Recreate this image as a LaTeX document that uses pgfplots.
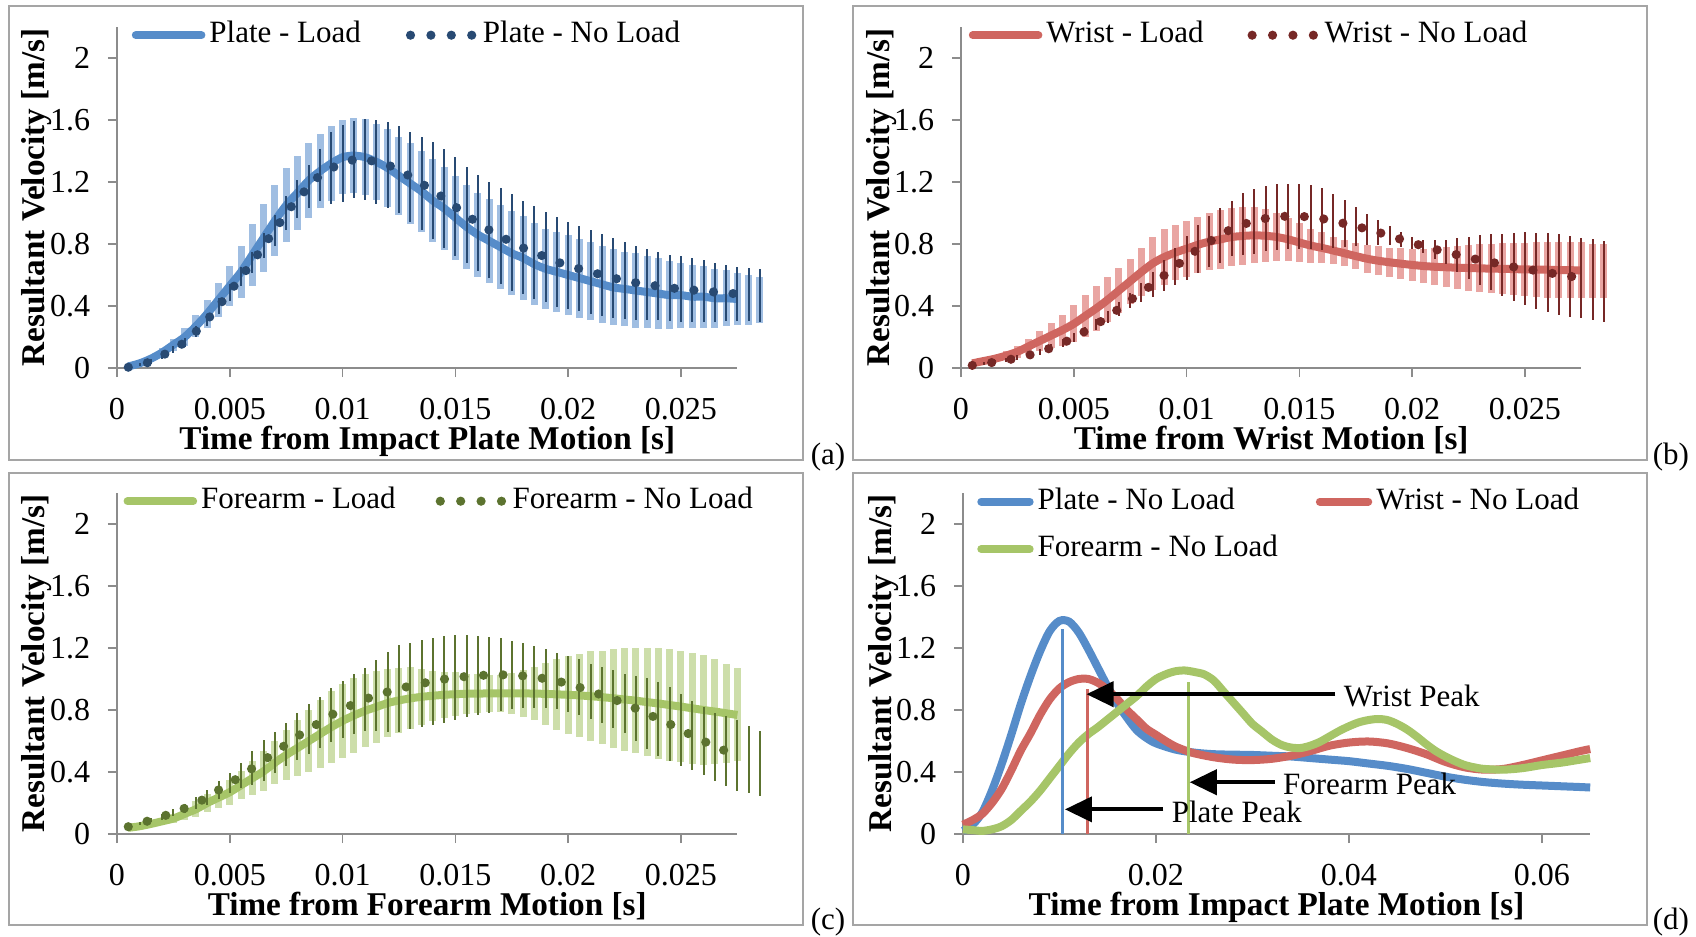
\documentclass[border=0pt]{standalone}
\usepackage{fontspec}
\setmainfont{Liberation Serif}
\usepackage{pgfplots}
\pgfplotsset{compat=1.18}
\usepackage{pgfplotstable}
\usetikzlibrary{arrows.meta}
\newcommand\tf{\fontsize{7.75}{9.3}\selectfont}
\newcommand\tkf{\fontsize{8}{9.6}\selectfont}
\newcommand\lbf{\fontsize{8.3}{9.9}\selectfont\bfseries}
\definecolor{plateL}{RGB}{86,140,201}
\definecolor{plateLbar}{RGB}{160,190,226}
\definecolor{plateN}{RGB}{40,74,115}
\definecolor{wristL}{RGB}{207,102,96}
\definecolor{wristLbar}{RGB}{233,165,162}
\definecolor{wristN}{RGB}{118,40,38}
\definecolor{foreL}{RGB}{166,197,104}
\definecolor{foreLbar}{RGB}{205,222,170}
\definecolor{foreN}{RGB}{92,115,47}
\definecolor{axisgray}{RGB}{140,140,140}
\definecolor{boxgray}{RGB}{165,165,165}

% t, Load mean, Load sd, No-Load mean, No-Load sd
\pgfplotstableread{
t mL eL mN eN
0.0005 0.01 0.005 0.005 0.005
0.0010 0.03 0.01 0.02 0.01
0.0015 0.06 0.02 0.04 0.015
0.0020 0.10 0.03 0.08 0.02
0.0025 0.15 0.04 0.12 0.025
0.0030 0.20 0.06 0.165 0.03
0.0035 0.27 0.07 0.235 0.035
0.0040 0.35 0.09 0.31 0.04
0.0045 0.44 0.11 0.40 0.05
0.0050 0.53 0.13 0.49 0.055
0.0055 0.62 0.17 0.59 0.06
0.0060 0.73 0.20 0.68 0.07
0.0065 0.84 0.22 0.79 0.08
0.0070 0.95 0.23 0.89 0.10
0.0075 1.05 0.24 1.00 0.11
0.0080 1.13 0.24 1.09 0.12
0.0085 1.21 0.24 1.17 0.14
0.0090 1.27 0.24 1.245 0.17
0.0095 1.32 0.24 1.29 0.23
0.0100 1.36 0.24 1.32 0.25
0.0105 1.37 0.24 1.345 0.25
0.0110 1.36 0.245 1.345 0.26
0.0115 1.33 0.245 1.33 0.27
0.0120 1.29 0.25 1.31 0.28
0.0125 1.24 0.25 1.28 0.28
0.0130 1.19 0.26 1.235 0.29
0.0135 1.14 0.26 1.19 0.30
0.0140 1.08 0.27 1.145 0.31
0.0145 1.03 0.27 1.095 0.32
0.0150 0.97 0.27 1.04 0.32
0.0155 0.91 0.27 0.985 0.31
0.0160 0.86 0.27 0.935 0.31
0.0165 0.82 0.27 0.89 0.31
0.0170 0.78 0.27 0.85 0.31
0.0175 0.74 0.27 0.81 0.31
0.0180 0.71 0.27 0.775 0.30
0.0185 0.67 0.265 0.745 0.30
0.0190 0.64 0.26 0.715 0.29
0.0195 0.62 0.26 0.685 0.29
0.0200 0.60 0.26 0.66 0.28
0.0205 0.58 0.255 0.64 0.275
0.0210 0.56 0.25 0.62 0.27
0.0215 0.54 0.25 0.60 0.265
0.0220 0.52 0.245 0.58 0.26
0.0225 0.51 0.24 0.565 0.25
0.0230 0.50 0.24 0.55 0.24
0.0235 0.49 0.235 0.54 0.23
0.0240 0.48 0.23 0.527 0.22
0.0245 0.47 0.22 0.517 0.215
0.0250 0.47 0.21 0.51 0.21
0.0255 0.46 0.205 0.503 0.205
0.0260 0.46 0.20 0.497 0.20
0.0265 0.45 0.19 0.49 0.19
0.0270 0.45 0.18 0.484 0.18
0.0275 0.445 0.17 0.478 0.175
0.0280 0.44 0.16 0.473 0.17
0.0285 0.44 0.15 0.468 0.17
}\tabA

\pgfplotstableread{
t mL eL mN eN
0.0005 0.03 0.01 0.017 0.01
0.0010 0.045 0.015 0.028 0.01
0.0015 0.06 0.02 0.038 0.012
0.0020 0.08 0.03 0.05 0.014
0.0025 0.105 0.04 0.065 0.016
0.0030 0.14 0.05 0.082 0.018
0.0035 0.175 0.065 0.105 0.02
0.0040 0.21 0.08 0.13 0.022
0.0045 0.245 0.10 0.16 0.025
0.0050 0.285 0.12 0.195 0.028
0.0055 0.335 0.135 0.237 0.03
0.0060 0.385 0.145 0.28 0.035
0.0065 0.44 0.145 0.33 0.04
0.0070 0.50 0.145 0.382 0.045
0.0075 0.56 0.145 0.437 0.05
0.0080 0.62 0.155 0.488 0.06
0.0085 0.675 0.17 0.54 0.08
0.0090 0.715 0.18 0.597 0.10
0.0095 0.745 0.18 0.655 0.12
0.0100 0.77 0.18 0.71 0.14
0.0105 0.795 0.18 0.768 0.155
0.0110 0.815 0.185 0.815 0.165
0.0115 0.83 0.19 0.855 0.175
0.0120 0.845 0.19 0.90 0.18
0.0125 0.852 0.185 0.927 0.20
0.0130 0.856 0.18 0.947 0.21
0.0135 0.853 0.17 0.965 0.21
0.0140 0.845 0.155 0.975 0.215
0.0145 0.83 0.14 0.98 0.21
0.0150 0.81 0.125 0.979 0.21
0.0155 0.79 0.11 0.974 0.205
0.0160 0.775 0.10 0.964 0.20
0.0165 0.758 0.09 0.948 0.175
0.0170 0.74 0.085 0.932 0.15
0.0175 0.722 0.085 0.914 0.125
0.0180 0.705 0.09 0.896 0.10
0.0185 0.692 0.095 0.875 0.08
0.0190 0.682 0.095 0.854 0.06
0.0195 0.673 0.10 0.83 0.05
0.0200 0.665 0.105 0.808 0.04
0.0205 0.658 0.11 0.785 0.04
0.0210 0.653 0.12 0.766 0.06
0.0215 0.65 0.13 0.748 0.08
0.0220 0.647 0.14 0.73 0.11
0.0225 0.645 0.15 0.712 0.135
0.0230 0.643 0.155 0.696 0.16
0.0235 0.641 0.16 0.683 0.18
0.0240 0.64 0.165 0.667 0.20
0.0245 0.638 0.17 0.652 0.22
0.0250 0.636 0.17 0.64 0.235
0.0255 0.635 0.175 0.628 0.245
0.0260 0.634 0.18 0.616 0.255
0.0265 0.632 0.18 0.603 0.26
0.0270 0.631 0.18 0.592 0.26
0.0275 0.63 0.18 0.58 0.26
0.0280 0.628 0.175 0.57 0.26
0.0285 0.626 0.175 0.56 0.26
}\tabB

\pgfplotstableread{
t mL eL mN eN
0.0005 0.04 0.005 0.047 0.005
0.0010 0.05 0.01 0.067 0.01
0.0015 0.065 0.015 0.09 0.015
0.0020 0.082 0.02 0.112 0.02
0.0025 0.10 0.03 0.138 0.025
0.0030 0.13 0.04 0.166 0.03
0.0035 0.16 0.05 0.20 0.04
0.0040 0.20 0.055 0.235 0.05
0.0045 0.235 0.065 0.284 0.06
0.0050 0.27 0.08 0.327 0.065
0.0055 0.315 0.09 0.375 0.08
0.0060 0.36 0.11 0.424 0.11
0.0065 0.405 0.13 0.475 0.13
0.0070 0.46 0.14 0.525 0.13
0.0075 0.51 0.16 0.578 0.14
0.0080 0.555 0.18 0.63 0.15
0.0085 0.60 0.20 0.678 0.16
0.0090 0.645 0.22 0.72 0.165
0.0095 0.69 0.23 0.768 0.175
0.0100 0.73 0.24 0.805 0.185
0.0105 0.765 0.24 0.839 0.195
0.0110 0.795 0.235 0.869 0.205
0.0115 0.82 0.23 0.895 0.23
0.0120 0.845 0.22 0.917 0.26
0.0125 0.862 0.21 0.938 0.28
0.0130 0.875 0.20 0.955 0.28
0.0135 0.885 0.18 0.971 0.28
0.0140 0.892 0.16 0.985 0.28
0.0145 0.898 0.15 0.999 0.28
0.0150 0.902 0.14 1.009 0.275
0.0155 0.905 0.13 1.017 0.265
0.0160 0.906 0.125 1.022 0.255
0.0165 0.907 0.12 1.026 0.245
0.0170 0.907 0.12 1.027 0.235
0.0175 0.907 0.13 1.026 0.22
0.0180 0.907 0.15 1.02 0.21
0.0185 0.906 0.17 1.011 0.20
0.0190 0.904 0.20 1.002 0.19
0.0195 0.901 0.23 0.988 0.18
0.0200 0.898 0.25 0.968 0.18
0.0205 0.894 0.27 0.946 0.18
0.0210 0.889 0.29 0.92 0.18
0.0215 0.883 0.30 0.896 0.18
0.0220 0.876 0.32 0.87 0.185
0.0225 0.868 0.33 0.843 0.19
0.0230 0.86 0.34 0.81 0.21
0.0235 0.851 0.35 0.776 0.23
0.0240 0.842 0.355 0.742 0.24
0.0245 0.832 0.36 0.71 0.24
0.0250 0.822 0.36 0.671 0.23
0.0255 0.811 0.36 0.635 0.22
0.0260 0.80 0.355 0.60 0.22
0.0265 0.79 0.34 0.563 0.22
0.0270 0.779 0.32 0.535 0.225
0.0275 0.768 0.30 0.507 0.23
0.0280 nan nan 0.48 0.215
0.0285 nan nan 0.455 0.21
}\tabC

\pgfplotsset{
  panel/.style={
    scale only axis, width=155.1pt, height=85.25pt,
    xmin=0, xmax=0.0275, ymin=0, ymax=2.2,
    axis lines=left, axis line style={-, draw=axisgray, line width=0.4pt},
    tick align=outside, major tick length=2.25pt,
    tick style={draw=axisgray, line width=0.4pt},
    xtick={0,0.005,0.01,0.015,0.02,0.025},
    xticklabels={0,0.005,0.01,0.015,0.02,0.025},
    ytick={0,0.4,0.8,1.2,1.6,2},
    yticklabels={0,0.4,0.8,1.2,1.6,2},
    scaled x ticks=false, scaled y ticks=false,
    /pgf/number format/assume math mode=true,
    tick label style={font=\tkf},
    yticklabel style={anchor=east, inner sep=0pt, xshift=-4.25pt},
    xticklabel style={anchor=north, inner sep=0pt, yshift=-5pt},
    ylabel={Resultant Velocity [m/s]},
    ylabel style={at={([xshift=-18pt]axis description cs:0,0.5)}, anchor=base, inner sep=0pt, font=\lbf},
    xlabel style={at={([yshift=-20.25pt]axis description cs:0.5,0)}, anchor=base, inner sep=0pt, font=\lbf},
    clip=false,
    legend columns=2, legend cell align=left,
    legend style={draw=none, fill=none, font=\tf, inner sep=0pt, anchor=west,
      nodes={inner sep=0pt},
      /tikz/every odd column/.append style={column sep=1pt}},
  },
  loadleg/.style={legend image code/.code={\path[draw=none, fill=none] (0pt,-1pt) rectangle (18.4pt,1pt);
      \draw[#1, solid, line width=2pt, line cap=round] (1pt,0pt) -- (17.4pt,0pt);}},
  dotleg/.style={legend image code/.code={\path[draw=none, fill=none] (0pt,-1pt) rectangle (18.25pt,1pt);
      \draw[draw=#1, line width=2.3pt, line cap=round, dash pattern=on 0pt off 5.1pt] (1.15pt,0pt) -- (17pt,0pt);}},
  lineleg/.style={legend image code/.code={\path[draw=none, fill=none] (0pt,-1pt) rectangle (14.1pt,1pt);
      \draw[#1, solid, line width=2pt, line cap=round] (1pt,0pt) -- (13.1pt,0pt);}},
  loadbar/.style={forget plot, draw=none, mark=none, error bars/.cd, y dir=both, y explicit, error mark=none, error bar style={line width=1.75pt, draw=#1}},
  nobar/.style={forget plot, draw=none, mark=none, error bars/.cd, y dir=both, y explicit, error mark=none, error bar style={line width=0.5pt, draw=#1}},
  loadline/.style={#1, line width=2pt, line join=round, smooth, mark=none, restrict x to domain=0:0.02751, loadleg=#1},
  dotline/.style={forget plot, #1, line width=2.3pt, line cap=round, dash pattern=on 0pt off 4.9pt, mark=none, restrict x to domain=0:0.02751},
}

\begin{document}
\begin{tikzpicture}
\path[use as bounding box] (0,0) rectangle (424pt,234pt);
\draw[boxgray, line width=0.5pt] (2.25pt,119pt) rectangle (200.75pt,232.5pt);
\draw[boxgray, line width=0.5pt] (213.25pt,119pt) rectangle (411.75pt,232.5pt);
\draw[boxgray, line width=0.5pt] (2.25pt,2.75pt) rectangle (200.75pt,115.75pt);
\draw[boxgray, line width=0.5pt] (213.25pt,2.75pt) rectangle (411.75pt,115.75pt);
\node[anchor=base west, inner sep=0pt, font=\tf] at (202.5pt,118pt) {(a)};
\node[anchor=base west, inner sep=0pt, font=\tf] at (413pt,118pt) {(b)};
\node[anchor=base west, inner sep=0pt, font=\tf] at (202.5pt,1.75pt) {(c)};
\node[anchor=base west, inner sep=0pt, font=\tf] at (413pt,1.75pt) {(d)};

% (a)
\begin{axis}[panel, at={(29.25pt,142pt)}, anchor=south west,
  xlabel={Time from Impact Plate Motion [s]},
  legend style={at={(0.0226,0.976)}, /tikz/every even column/.append style={column sep=11.25pt}}]
\addplot[loadbar=plateLbar] table[x=t, y=mL, y error=eL] {\tabA};
\addplot[loadline=plateL] table[x=t, y=mL] {\tabA};
\addlegendentry{Plate - Load}
\addplot[nobar=plateN] table[x=t, y=mN, y error=eN] {\tabA};
\addplot[dotline=plateN] table[x=t, y=mN] {\tabA};
\addlegendimage{dotleg=plateN}
\addlegendentry{Plate - No Load}
\end{axis}

% (b)
\begin{axis}[panel, at={(240.25pt,142pt)}, anchor=south west,
  xlabel={Time from Wrist Motion [s]},
  legend style={at={(0.0113,0.976)}, /tikz/every even column/.append style={column sep=11pt}}]
\addplot[loadbar=wristLbar] table[x=t, y=mL, y error=eL] {\tabB};
\addplot[loadline=wristL] table[x=t, y=mL] {\tabB};
\addlegendentry{Wrist - Load}
\addplot[nobar=wristN] table[x=t, y=mN, y error=eN] {\tabB};
\addplot[dotline=wristN] table[x=t, y=mN] {\tabB};
\addlegendimage{dotleg=wristN}
\addlegendentry{Wrist - No Load}
\end{axis}

% (c)
\begin{axis}[panel, at={(29.25pt,25.5pt)}, anchor=south west,
  xlabel={Time from Forearm Motion [s]},
  legend style={at={(0.0093,0.976)}, /tikz/every even column/.append style={column sep=10pt}}]
\addplot[loadbar=foreLbar] table[x=t, y=mL, y error=eL] {\tabC};
\addplot[loadline=foreL] table[x=t, y=mL] {\tabC};
\addlegendentry{Forearm - Load}
\addplot[nobar=foreN] table[x=t, y=mN, y error=eN] {\tabC};
\addplot[dotline=foreN] table[x=t, y=mN] {\tabC};
\addlegendimage{dotleg=foreN}
\addlegendentry{Forearm - No Load}
\end{axis}

% (d)
\begin{axis}[panel, at={(240.75pt,25.5pt)}, anchor=south west,
  width=156.8pt, xmax=0.065,
  xtick={0,0.02,0.04,0.06}, xticklabels={0,0.02,0.04,0.06},
  xlabel={Time from Impact Plate Motion [s]},
  legend style={at={(0.0215,0.905)}, /tikz/every even column/.append style={column sep=9.5pt},
    /tikz/row sep=5pt}]
\addplot[plateL, line width=2pt, smooth, mark=none, lineleg=plateL] coordinates {
(0,0.02) (0.001,0.06) (0.002,0.14) (0.003,0.28) (0.004,0.45) (0.005,0.64)
(0.006,0.84) (0.007,1.02) (0.008,1.18) (0.009,1.31) (0.010,1.375) (0.011,1.37)
(0.012,1.30) (0.013,1.19) (0.014,1.07) (0.015,0.95) (0.016,0.84) (0.017,0.75)
(0.018,0.67) (0.019,0.62) (0.020,0.585) (0.022,0.545) (0.024,0.525) (0.026,0.515)
(0.028,0.512) (0.030,0.51) (0.032,0.505) (0.034,0.50) (0.036,0.49) (0.038,0.48)
(0.040,0.47) (0.042,0.455) (0.044,0.44) (0.046,0.42) (0.048,0.395) (0.050,0.37)
(0.052,0.35) (0.054,0.335) (0.056,0.325) (0.058,0.318) (0.060,0.313) (0.062,0.308)
(0.064,0.303) (0.065,0.30)};
\addlegendentry{Plate - No Load}
\addplot[wristL, line width=2pt, smooth, mark=none, lineleg=wristL] coordinates {
(0,0.06) (0.001,0.09) (0.002,0.13) (0.003,0.20) (0.004,0.29) (0.005,0.41)
(0.006,0.54) (0.007,0.65) (0.008,0.77) (0.009,0.87) (0.010,0.94) (0.011,0.98)
(0.012,1.00) (0.013,1.00) (0.014,0.975) (0.015,0.93) (0.016,0.87) (0.017,0.80)
(0.018,0.74) (0.019,0.68) (0.020,0.64) (0.021,0.60) (0.022,0.565) (0.023,0.54)
(0.024,0.52) (0.026,0.495) (0.028,0.48) (0.030,0.477) (0.032,0.485) (0.034,0.505)
(0.036,0.535) (0.038,0.57) (0.040,0.59) (0.042,0.597) (0.044,0.585) (0.046,0.555)
(0.048,0.515) (0.050,0.465) (0.052,0.43) (0.054,0.415) (0.056,0.42) (0.058,0.445)
(0.060,0.475) (0.062,0.505) (0.064,0.535) (0.065,0.548)};
\addlegendentry{Wrist - No Load}
\addplot[foreL, line width=2pt, smooth, mark=none, lineleg=foreL] coordinates {
(0,0.03) (0.001,0.025) (0.002,0.02) (0.003,0.03) (0.004,0.05) (0.005,0.09)
(0.006,0.15) (0.007,0.21) (0.008,0.28) (0.009,0.36) (0.010,0.44) (0.011,0.52)
(0.012,0.59) (0.013,0.645) (0.014,0.69) (0.015,0.74) (0.016,0.79) (0.017,0.84)
(0.018,0.89) (0.019,0.95) (0.020,1.00) (0.021,1.03) (0.022,1.05) (0.023,1.055)
(0.024,1.045) (0.025,1.03) (0.026,0.99) (0.027,0.92) (0.028,0.85) (0.029,0.78)
(0.030,0.71) (0.031,0.66) (0.032,0.61) (0.033,0.575) (0.034,0.558) (0.035,0.555)
(0.036,0.57) (0.037,0.595) (0.038,0.63) (0.039,0.665) (0.040,0.695) (0.041,0.72)
(0.042,0.735) (0.043,0.742) (0.044,0.735) (0.045,0.71) (0.046,0.675) (0.047,0.63)
(0.048,0.58) (0.049,0.535) (0.050,0.50) (0.051,0.47) (0.052,0.445) (0.053,0.43)
(0.054,0.42) (0.056,0.415) (0.058,0.425) (0.060,0.445) (0.062,0.46) (0.064,0.48)
(0.065,0.49)};
\addlegendentry{Forearm - No Load}
\addplot[forget plot, plateL, line width=0.8pt, mark=none] coordinates {(0.01033,0) (0.01033,1.323)};
\addplot[forget plot, wristL, line width=0.8pt, mark=none] coordinates {(0.0129,0) (0.0129,0.937)};
\addplot[forget plot, foreL, line width=0.8pt, mark=none] coordinates {(0.0234,0) (0.0234,0.98)};
\draw[line width=1pt, -{Triangle[length=6.75pt,width=6.25pt]}] (axis cs:0.0386,0.902) -- (axis cs:0.0128,0.902);
\node[anchor=base west, inner sep=0pt, font=\tf] at (axis cs:0.0394,0.822) {Wrist Peak};
\draw[line width=1pt, -{Triangle[length=6.75pt,width=6.25pt]}] (axis cs:0.0323,0.334) -- (axis cs:0.0235,0.334);
\node[anchor=base west, inner sep=0pt, font=\tf] at (axis cs:0.0331,0.255) {Forearm Peak};
\draw[line width=1pt, -{Triangle[length=6.75pt,width=6.25pt]}] (axis cs:0.02076,0.159) -- (axis cs:0.01057,0.159);
\node[anchor=base west, inner sep=0pt, font=\tf] at (axis cs:0.02156,0.077) {Plate Peak};
\end{axis}
\end{tikzpicture}
\end{document}
